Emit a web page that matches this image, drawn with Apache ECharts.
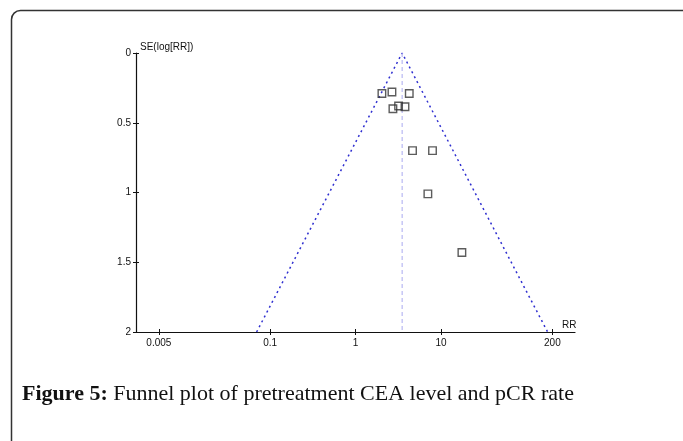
<!DOCTYPE html>
<html>
<head>
<meta charset="utf-8">
<script src="https://cdn.jsdelivr.net/npm/echarts@6/dist/echarts.min.js"></script>
<style>html,body{margin:0;padding:0;background:#fff;}#c{width:683px;height:441px;}</style>
</head>
<body>
<div id="c"></div>
<script>
// Study estimates
const rrValues = [2.03, 2.66, 4.24, 2.73, 3.18, 3.78, 4.63, 7.93, 7.0, 17.5];
const seValues = [0.29, 0.28, 0.29, 0.40, 0.38, 0.385, 0.70, 0.70, 1.01, 1.43];
// Pooled estimate and funnel (pseudo 95% limits)
const pooledRR = 3.5;
const funnelRR = [0.0695, 3.5, 176];
const funnelSE = [2, 0, 2];
const pooledSE = [0, 2];
// Axis ticks
const xTicks = [0.005, 0.1, 1, 10, 200];
const yTicks = [0, 0.5, 1, 1.5, 2];
const xMin = 0.0027, xMax = 368;

const chart = echarts.init(document.getElementById('c'));
const axisFont = {fontFamily: 'Liberation Sans, Arial, sans-serif', fontSize: 10, color: '#111'};
const lineCol = '#111';
const xCommon = {
  type: 'log', logBase: 10, min: xMin, max: xMax, gridIndex: 0, position: 'bottom',
  splitLine: {show: false}, minorTick: {show: false}
};
const yCommon = {
  type: 'value', inverse: true, min: 0, max: 2, interval: 0.5, gridIndex: 0, position: 'left',
  splitLine: {show: false}
};
chart.setOption({
  animation: false,
  grid: {left: 136, right: 108, top: 53, bottom: 109, containLabel: false},
  xAxis: [
    Object.assign({}, xCommon, {
      name: 'RR', nameLocation: 'end', nameGap: -13,
      nameTextStyle: Object.assign({}, axisFont, {fontSize: 10, align: 'left', verticalAlign: 'bottom', padding: [0, 0, 2, 0]}),
      axisLine: {show: true, onZero: false, lineStyle: {color: lineCol, width: 1.2}},
      axisTick: {show: true, inside: false, length: 3, customValues: xTicks, lineStyle: {color: lineCol, width: 1}},
      axisLabel: Object.assign({show: true, margin: 6, customValues: xTicks, formatter: v => String(+v.toPrecision(6))}, axisFont)
    }),
    Object.assign({}, xCommon, {
      axisLine: {show: false, onZero: false},
      axisTick: {show: true, inside: true, length: 3, customValues: xTicks, lineStyle: {color: lineCol, width: 1}},
      axisLabel: {show: false}
    })
  ],
  yAxis: [
    Object.assign({}, yCommon, {
      name: 'SE(log[RR])', nameLocation: 'start', nameGap: 6,
      nameTextStyle: Object.assign({}, axisFont, {align: 'left', verticalAlign: 'middle', padding: [0, 0, 0, 4]}),
      axisLine: {show: true, onZero: false, lineStyle: {color: lineCol, width: 1.2}},
      axisTick: {show: true, inside: false, length: 3, lineStyle: {color: lineCol, width: 1}},
      axisLabel: Object.assign({show: true, margin: 5, customValues: yTicks}, axisFont)
    }),
    Object.assign({}, yCommon, {
      axisLine: {show: false, onZero: false},
      axisTick: {show: true, inside: true, length: 3, lineStyle: {color: lineCol, width: 1}},
      axisLabel: {show: false}
    })
  ],
  series: [
    {
      type: 'line', xAxisIndex: 0, yAxisIndex: 0, z: 2,
      data: funnelRR.map((x, i) => [x, funnelSE[i]]),
      symbol: 'none', silent: true,
      lineStyle: {color: '#2f2fd0', width: 1.5, type: [2, 3.5]}
    },
    {
      type: 'line', xAxisIndex: 0, yAxisIndex: 0, z: 2,
      data: pooledSE.map(s => [pooledRR, s]),
      symbol: 'none', silent: true,
      lineStyle: {color: '#a9a9f0', width: 1, type: [4, 3]}
    },
    {
      type: 'scatter', xAxisIndex: 0, yAxisIndex: 0, z: 3,
      data: rrValues.map((x, i) => [x, seValues[i]]),
      symbol: 'rect', symbolSize: 7.5,
      itemStyle: {color: 'rgba(255,255,255,0)', borderColor: '#333', borderWidth: 1.4}
    }
  ],
  graphic: [
    {
      type: 'rect', silent: true, z: 0,
      shape: {x: 11.5, y: 10.5, width: 720, height: 480, r: 9},
      style: {fill: 'none', stroke: '#333', lineWidth: 1.5}
    },
    {
      type: 'text', left: 22, top: 383, silent: true,
      style: {
        text: '{b|Figure 5:} Funnel plot of pretreatment CEA level and pCR rate',
        font: '22px "Liberation Serif", serif', fill: '#111',
        rich: {b: {fontWeight: 'bold', fontSize: 22, fontFamily: 'Liberation Serif, serif', fill: '#111'}}
      }
    }
  ]
});
</script>
</body>
</html>
